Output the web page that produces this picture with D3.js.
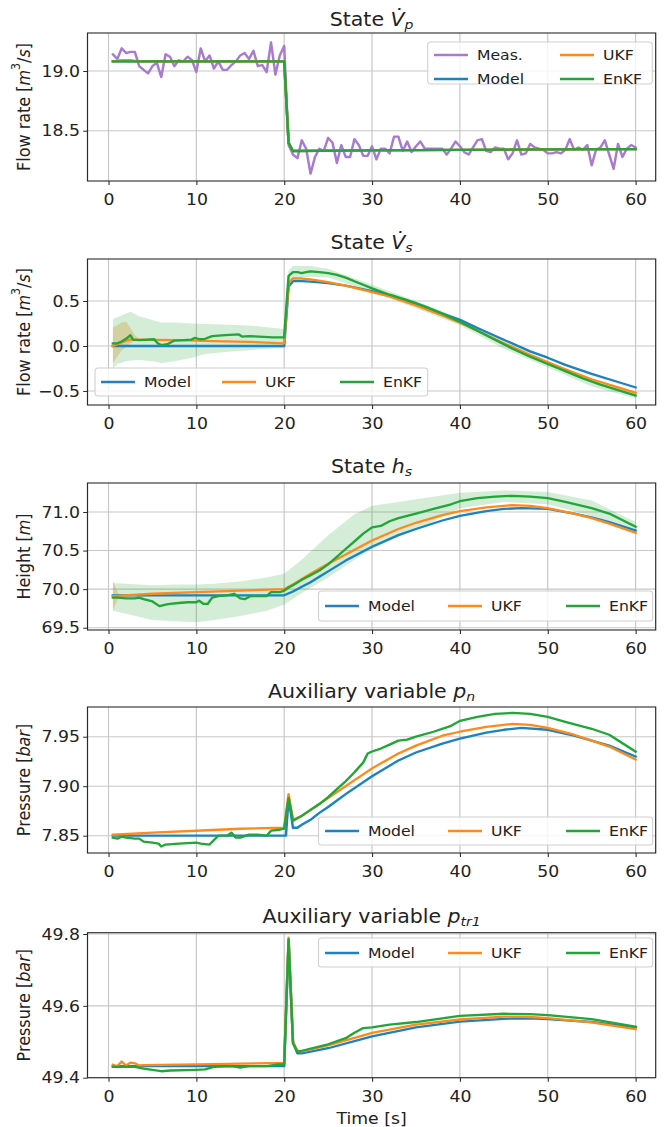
<!DOCTYPE html>
<html><head><meta charset="utf-8">
<script src="https://cdn.jsdelivr.net/npm/d3@7/dist/d3.min.js"></script>
<style>html,body{margin:0;padding:0;background:#fff;} svg{display:block;} text{font-family:"DejaVu Sans",sans-serif;fill:#222;}</style>
</head><body><svg id="c" width="672" height="1127"></svg>
<script>
// ---------------- DATA ----------------
const xTicks = [0,10,20,30,40,50,60];
const legendLabels4 = ["Meas.","Model","UKF","EnKF"];
const legendLabels3 = ["Model","UKF","EnKF"];

// Panel 1: State Vp
const measTime = [0.5,1,1.5,2,2.5,3,3.5,4,4.5,5,5.5,6,6.5,7,7.5,8,8.5,9,9.5,10,10.5,11,11.5,12,12.5,13,13.5,14,14.5,15,15.5,16,16.5,17,17.5,18,18.5,19,19.5,20,20.5,21,21.5,22,22.5,23,23.5,24,24.5,25,25.5,26,26.5,27,27.5,28,28.5,29,29.5,30,30.5,31,31.5,32,32.5,33,33.5,34,34.5,35,35.5,36,36.5,37,37.5,38,38.5,39,39.5,40,40.5,41,41.5,42,42.5,43,43.5,44,44.5,45,45.5,46,46.5,47,47.5,48,48.5,49,49.5,50,50.5,51,51.5,52,52.5,53,53.5,54,54.5,55,55.5,56,56.5,57,57.5,58,58.5,59,59.5,60];
const measVp = [19.14,19.10,19.19,19.15,19.16,19.16,19.04,19.01,18.98,19.04,19.07,18.95,19.14,19.12,19.04,19.09,19.08,19.12,19.09,18.99,19.19,19.08,19.13,19.02,19.08,19.01,19.01,19.05,19.08,19.13,19.15,19.10,19.17,19.04,19.05,18.99,19.24,18.97,19.13,19.21,
18.38,18.30,18.27,18.42,18.35,18.14,18.28,18.35,18.33,18.44,18.40,18.23,18.38,18.28,18.28,18.43,18.38,18.29,18.29,18.37,18.26,18.35,18.35,18.31,18.45,18.45,18.33,18.41,18.32,18.37,18.41,18.35,18.35,18.35,18.35,18.35,18.30,18.35,18.41,18.37,18.32,18.30,18.36,18.42,18.43,18.33,18.32,18.36,18.35,18.35,18.26,18.31,18.42,18.30,18.31,18.39,18.36,18.35,18.34,18.31,18.31,18.32,18.31,18.34,18.43,18.34,18.36,18.34,18.38,18.21,18.34,18.36,18.42,18.30,18.18,18.39,18.28,18.35,18.38,18.36];
const vpModelTime = [0.5,20,20.5,21,30,40,50,60];
const vpModel = [19.08,19.08,18.40,18.33,18.335,18.34,18.343,18.345];
const vpUKFTime = [0.5,1.5,2.5,3.5,20,20.5,21,30,40,50,60];
const vpUKF = [19.08,19.09,19.09,19.08,19.08,18.40,18.33,18.335,18.34,18.343,18.345];
const vpEnKFTime = [0.5,20,20.5,21,30,40,50,60];
const vpEnKF = [19.08,19.08,18.40,18.33,18.335,18.34,18.343,18.345];

// Panel 2: State Vs
const vsModelTime = [0.5,20,20.5,21,22,23,25,27,30,32,35,38,40,42,45,48,50,52,55,58,60];
const vsModel = [0,0,0.66,0.72,0.72,0.715,0.70,0.67,0.61,0.56,0.47,0.36,0.29,0.20,0.07,-0.06,-0.13,-0.21,-0.31,-0.40,-0.46];
const vsUKFTime = [0.5,1,2,2.5,3,5,8,12,16,20,20.5,21,22,23,25,27,30,32,35,38,40,42,45,48,50,52,55,58,60];
const vsUKF = [0.0,0.02,0.06,0.07,0.07,0.068,0.065,0.055,0.045,0.03,0.70,0.75,0.75,0.74,0.71,0.67,0.60,0.55,0.45,0.34,0.26,0.17,0.03,-0.10,-0.18,-0.26,-0.37,-0.46,-0.52];
const vsUKFBandTime = [0.5,1,1.5,2,2.5,3,3.5,4];
const vsUKFLo = [-0.19,-0.12,-0.05,-0.01,0.03,0.055,0.063,0.066];
const vsUKFHi = [0.21,0.23,0.26,0.27,0.20,0.12,0.08,0.07];
const vsEnKFTime = [0.5,1,1.5,2,2.5,2.8,3.5,5.2,5.6,6,6.7,7.5,8.6,9.4,9.8,10.4,11,11.8,13.3,14.8,15.2,16,17.1,18.7,20,20.5,21,21.5,22,22.5,23,24,25,26,27,28,29,30,32,34,36,38,40,42,44,46,48,50,52,54,56,58,60];
const vsEnKF = [0.03,0.03,0.05,0.08,0.12,0.07,0.065,0.075,0.03,0.01,0.02,0.06,0.065,0.07,0.09,0.075,0.08,0.11,0.12,0.13,0.105,0.11,0.105,0.095,0.095,0.78,0.82,0.82,0.81,0.82,0.83,0.82,0.81,0.79,0.76,0.72,0.68,0.64,0.57,0.51,0.44,0.36,0.27,0.17,0.07,-0.03,-0.12,-0.20,-0.28,-0.36,-0.43,-0.49,-0.55];
const vsEnKFBandTime = [0.5,1,2,2.5,3.5,5,6,7.5,9.5,11,14,17,20,20.5,21,23,25,30,35,40,45,50,55,60];
const vsEnKFHi = [0.30,0.32,0.36,0.38,0.33,0.29,0.26,0.26,0.25,0.245,0.235,0.22,0.19,0.84,0.89,0.89,0.86,0.68,0.50,0.31,0.07,-0.16,-0.38,-0.52];
const vsEnKFLo = [-0.25,-0.20,-0.17,-0.16,-0.155,-0.17,-0.19,-0.17,-0.13,-0.09,-0.06,-0.04,-0.02,0.70,0.75,0.77,0.76,0.60,0.42,0.23,-0.03,-0.24,-0.45,-0.58];

// Panel 3: State hs
const hsModelTime = [0.5,20,21,22,23,24,25,27,30,33,35,38,40,43,45,47,50,53,55,57,60];
const hsModel = [69.92,69.92,69.97,70.03,70.09,70.16,70.23,70.37,70.55,70.70,70.78,70.89,70.95,71.01,71.04,71.05,71.04,70.98,70.93,70.87,70.76];
const hsUKFTime = [0.5,5,10,15,20,21,23,25,27,30,33,35,38,40,43,45,46,48,50,53,55,57,60];
const hsUKF = [69.91,69.94,69.96,69.98,70.0,70.06,70.2,70.33,70.45,70.63,70.78,70.86,70.96,71.01,71.06,71.08,71.09,71.08,71.05,70.98,70.92,70.85,70.73];
const hsUKFBandTime = [0.5,0.8,1.1,1.5];
const hsUKFLo = [69.72,69.80,69.88,69.915];
const hsUKFHi = [70.11,70.03,69.95,69.92];
const hsEnKFTime = [0.5,1,2,3,3.5,4,5,5.8,6.5,7,8,9,10,10.3,10.8,11.3,11.8,12.5,13.5,14.3,15,15.5,16.2,17,18,18.5,19.5,20,20.5,21,22,23,24,25,26,27,28,29,30,31,32,33,35,37,39,40,42,44,46,48,50,52,55,57,60];
const hsEnKF = [69.89,69.89,69.88,69.88,69.89,69.87,69.84,69.78,69.80,69.81,69.82,69.83,69.83,69.85,69.81,69.81,69.89,69.91,69.92,69.94,69.88,69.87,69.91,69.91,69.91,69.96,69.96,69.98,70.02,70.05,70.12,70.18,70.24,70.32,70.42,70.52,70.62,70.72,70.80,70.82,70.88,70.92,70.98,71.04,71.10,71.14,71.18,71.20,71.21,71.20,71.18,71.13,71.05,70.98,70.81];
const hsEnKFBandTime = [0.5,2,5,8,10,12,15,18,20,22,25,28,30,33,36,40,45,50,55,60];
const hsEnKFHi = [70.08,70.07,70.05,70.06,70.06,70.07,70.10,70.15,70.20,70.38,70.70,70.97,71.08,71.13,71.18,71.25,71.28,71.26,71.15,70.87];
const hsEnKFLo = [69.72,69.68,69.60,69.58,69.57,69.60,69.65,69.72,69.80,69.95,70.15,70.38,70.52,70.68,70.82,71.05,71.13,71.10,70.95,70.74];

// Panel 4: pn
const pnModelTime = [0.5,20.2,20.5,21,21.5,22,23,24,25,27,30,33,35,38,40,43,45,47,50,53,55,57,60];
const pnModel = [7.850,7.850,7.888,7.858,7.858,7.861,7.866,7.873,7.879,7.892,7.910,7.926,7.934,7.943,7.948,7.954,7.957,7.959,7.957,7.951,7.946,7.941,7.930];
const pnUKFTime = [0.5,5,10,15,20,20.5,21,22,23,25,27,30,33,35,38,40,43,45,46,48,50,53,55,57,60];
const pnUKF = [7.851,7.853,7.855,7.857,7.858,7.892,7.866,7.870,7.876,7.888,7.900,7.918,7.933,7.941,7.951,7.955,7.960,7.962,7.963,7.962,7.959,7.952,7.946,7.940,7.927];
const pnEnKFTime = [0.5,1,1.5,2,3,3.5,4,5,5.7,6,6.5,8,10,10.5,11.5,12.5,13.5,14,14.5,15,16,17,18,18.5,19.5,20,20.5,21,22,23,24,25,26,27,28,29,29.5,30,31,32,33,34,35,37,39,40,42,44,46,48,50,52,55,57,60];
const pnEnKF = [7.848,7.847,7.849,7.848,7.847,7.847,7.844,7.843,7.842,7.839,7.841,7.842,7.843,7.842,7.841,7.850,7.850,7.853,7.848,7.848,7.851,7.851,7.850,7.855,7.856,7.857,7.888,7.865,7.870,7.876,7.882,7.889,7.897,7.905,7.914,7.924,7.933,7.935,7.938,7.942,7.946,7.947,7.950,7.955,7.961,7.966,7.970,7.973,7.974,7.973,7.970,7.965,7.958,7.952,7.935];

// Panel 5: ptr1
const ptModelTime = [0.5,20,20.5,21,21.5,22,25,30,35,40,45,48,50,55,60];
const ptModel = [49.432,49.432,49.78,49.50,49.468,49.468,49.482,49.515,49.540,49.556,49.564,49.565,49.563,49.555,49.540];
const ptUKFTime = [0.5,1,1.5,2,2.5,3,3.5,4,10,20,20.5,21,21.5,22,25,30,35,40,45,48,50,55,60];
const ptUKF = [49.436,49.432,49.445,49.434,49.442,49.440,49.434,49.435,49.437,49.441,49.79,49.50,49.475,49.473,49.490,49.525,49.548,49.562,49.570,49.569,49.566,49.554,49.535];
const ptEnKFTime = [0.5,3,4,5,6,7,10,11,12,14,15,16,18,19,20,20.5,21,21.5,22,25,27,28,29,30,32,35,40,45,48,50,55,60];
const ptEnKF = [49.430,49.430,49.425,49.422,49.418,49.420,49.422,49.423,49.430,49.432,49.428,49.432,49.432,49.436,49.438,49.785,49.495,49.472,49.475,49.493,49.510,49.525,49.538,49.540,49.548,49.555,49.572,49.578,49.577,49.574,49.563,49.542];

// ---------------- STYLE / LAYOUT ----------------
const SX = 1.08;
const COL = {meas:"#a87bd0", model:"#1b83c0", ukf:"#ff8a1c", enkf:"#21a637"};
const AXL = 87.5, AXR = 655.7;
const xDomain = [-2.39, 62.29];
const LEG_LINE = 34, LEG_TXT = 43, LEG_FONT = 14.5;
const zip = (t, v) => t.map((d,i) => ({t:d, v:v[i]}));
const zipB = (t, lo, hi) => t.map((d,i) => ({t:d, lo:lo[i], hi:hi[i]}));

const flowLabel = [{s:"Flow rate ["},{s:"m",it:1},{s:"3",sup:1},{s:"/"},{s:"s",it:1},{s:"]"}];
const panels = [
 {top:33,bottom:181,yDomain:[18.079,19.318],yTicks:[18.5,19.0],fmt:d3.format(".1f"),titleY:19,
  title:[{s:"State "},{s:"V\u0307",it:1},{s:"p",it:1,sub:1}], ylabel:flowLabel,
  bands:[],
  lines:[{d:zip(measTime,measVp),c:COL.meas},{d:zip(vpModelTime,vpModel),c:COL.model},{d:zip(vpUKFTime,vpUKF),c:COL.ukf},{d:zip(vpEnKFTime,vpEnKF),c:COL.enkf}],
  legend:{box:[427.7,652.3,42,84],labels:legendLabels4,colors:[COL.meas,COL.model,COL.ukf,COL.enkf],
    pos:[[434,55],[434,79],[560,55],[560,79]]}},
 {top:259,bottom:405,yDomain:[-0.656,0.967],yTicks:[-0.5,0,0.5],fmt:d=>d3.format(".1f")(d).replace("-","\u2212"),titleY:242,
  title:[{s:"State "},{s:"V\u0307",it:1},{s:"s",it:1,sub:1}], ylabel:flowLabel,
  bands:[{d:zipB(vsUKFBandTime,vsUKFLo,vsUKFHi),c:COL.ukf,o:0.3},{d:zipB(vsEnKFBandTime,vsEnKFLo,vsEnKFHi),c:COL.enkf,o:0.2}],
  lines:[{d:zip(vsModelTime,vsModel),c:COL.model},{d:zip(vsUKFTime,vsUKF),c:COL.ukf},{d:zip(vsEnKFTime,vsEnKF),c:COL.enkf}],
  legend:{box:[95,427.7,368,396],labels:legendLabels3,colors:[COL.model,COL.ukf,COL.enkf],
    pos:[[101,382],[222,382],[340,382]]}},
 {top:483,bottom:630,yDomain:[69.47,71.376],yTicks:[69.5,70.0,70.5,71.0],fmt:d3.format(".1f"),titleY:466,
  title:[{s:"State "},{s:"h",it:1},{s:"s",it:1,sub:1}], ylabel:[{s:"Height ["},{s:"m",it:1},{s:"]"}],
  bands:[{d:zipB(hsUKFBandTime,hsUKFLo,hsUKFHi),c:COL.ukf,o:0.3},{d:zipB(hsEnKFBandTime,hsEnKFLo,hsEnKFHi),c:COL.enkf,o:0.2}],
  lines:[{d:zip(hsModelTime,hsModel),c:COL.model},{d:zip(hsUKFTime,hsUKF),c:COL.ukf},{d:zip(hsEnKFTime,hsEnKF),c:COL.enkf}],
  legend:{box:[318.5,652.7,591,621],labels:legendLabels3,colors:[COL.model,COL.ukf,COL.enkf],
    pos:[[325,606],[448,606],[566,606]]}},
 {top:707,bottom:853,yDomain:[7.8325,7.980],yTicks:[7.85,7.90,7.95],fmt:d3.format(".2f"),titleY:691,
  title:[{s:"Auxiliary variable "},{s:"p",it:1},{s:"n",it:1,sub:1}], ylabel:[{s:"Pressure ["},{s:"bar",it:1},{s:"]"}],
  bands:[],
  lines:[{d:zip(pnModelTime,pnModel),c:COL.model},{d:zip(pnUKFTime,pnUKF),c:COL.ukf},{d:zip(pnEnKFTime,pnEnKF),c:COL.enkf}],
  legend:{box:[318.5,652.7,817,845],labels:legendLabels3,colors:[COL.model,COL.ukf,COL.enkf],
    pos:[[325,831],[448,831],[566,831]]}},
 {top:932.7,bottom:1077.7,yDomain:[49.4,49.8036],yTicks:[49.4,49.6,49.8],fmt:d3.format(".1f"),titleY:916,
  title:[{s:"Auxiliary variable "},{s:"p",it:1},{s:"tr1",it:1,sub:1}], ylabel:[{s:"Pressure ["},{s:"bar",it:1},{s:"]"}],
  bands:[],
  lines:[{d:zip(ptModelTime,ptModel),c:COL.model},{d:zip(ptUKFTime,ptUKF),c:COL.ukf},{d:zip(ptEnKFTime,ptEnKF),c:COL.enkf}],
  legend:{box:[318.5,652.7,938,967],labels:legendLabels3,colors:[COL.model,COL.ukf,COL.enkf],
    pos:[[325,953],[448,953],[566,953]]}}
];

// ---------------- DRAW ----------------
const svg = d3.select("#c");
svg.append("rect").attr("width",672).attr("height",1127).attr("fill","#fff");
const root = svg.append("g").attr("transform",`scale(${SX},1)`);
const defs = svg.append("defs");

function richText(sel, parts, subSize){
  let shift = 0;
  parts.forEach(p => {
    const t = sel.append("tspan").text(p.s);
    if (p.it) t.attr("font-style","italic");
    if (p.sub){ t.attr("font-size",subSize).attr("dy",5 - shift); shift = 5; }
    else if (p.sup){ t.attr("font-size",subSize).attr("dy",-7 - shift); shift = -7; }
    else if (shift !== 0){ t.attr("dy",-shift); shift = 0; }
  });
}

panels.forEach((p, i) => {
  const g = root.append("g");
  const x = d3.scaleLinear().domain(xDomain).range([AXL/SX, AXR/SX]);
  const y = d3.scaleLinear().domain(p.yDomain).range([p.bottom, p.top]);
  const x0 = AXL/SX, x1 = AXR/SX;
  const cid = "clip"+i;
  defs.append("clipPath").attr("id",cid).append("rect")
    .attr("x",x0*SX).attr("y",p.top).attr("width",(x1-x0)*SX).attr("height",p.bottom-p.top);

  // grid
  g.append("g").selectAll("line").data(xTicks).join("line")
    .attr("x1",d=>x(d)).attr("x2",d=>x(d)).attr("y1",p.top).attr("y2",p.bottom)
    .attr("stroke","#c8c8c8").attr("stroke-width",1.1);
  g.append("g").selectAll("line").data(p.yTicks).join("line")
    .attr("x1",x0).attr("x2",x1).attr("y1",d=>y(d)).attr("y2",d=>y(d))
    .attr("stroke","#c8c8c8").attr("stroke-width",1.1);

  const plot = svg.append("g").attr("clip-path",`url(#${cid})`).append("g").attr("transform",`scale(${SX},1)`);
  const area = d3.area().x(d=>x(d.t)).y0(d=>y(d.lo)).y1(d=>y(d.hi));
  p.bands.forEach(b => plot.append("path").attr("d",area(b.d)).attr("fill",b.c).attr("fill-opacity",b.o).attr("stroke","none"));
  const line = d3.line().x(d=>x(d.t)).y(d=>y(d.v));
  p.lines.forEach(l => plot.append("path").attr("d",line(l.d)).attr("fill","none")
    .attr("stroke",l.c).attr("stroke-width",2.3).attr("stroke-linejoin","round").attr("stroke-linecap","square"));

  // spines
  const top = root.append("g");
  top.append("rect").attr("x",x0).attr("y",p.top).attr("width",x1-x0).attr("height",p.bottom-p.top)
    .attr("fill","none").attr("stroke","#2a2a2a").attr("stroke-width",1.1);

  // axes
  const xa = top.append("g").attr("transform",`translate(0,${p.bottom})`)
    .call(d3.axisBottom(x).tickValues(xTicks).tickSize(4).tickFormat(d3.format("d")));
  xa.select(".domain").remove();
  xa.selectAll("line").attr("stroke","#2a2a2a");
  xa.selectAll("text").attr("y",19).attr("dy",null).attr("dominant-baseline","central")
    .attr("font-size",16).attr("fill","#222").attr("font-family","DejaVu Sans");
  const ya = top.append("g").attr("transform",`translate(${x0},0)`)
    .call(d3.axisLeft(y).tickValues(p.yTicks).tickSize(4).tickPadding(3).tickFormat(p.fmt));
  ya.select(".domain").remove();
  ya.selectAll("line").attr("stroke","#2a2a2a");
  ya.selectAll("text").attr("dy",null).attr("dominant-baseline","central")
    .attr("font-size",16).attr("fill","#222").attr("font-family","DejaVu Sans");

  // title
  const tt = top.append("text").attr("x",(x0+x1)/2).attr("y",p.titleY)
    .attr("text-anchor","middle").attr("dominant-baseline","central").attr("font-size",19);
  richText(tt, p.title, 13);

  // ylabel
  const yl = top.append("text").attr("transform",`translate(${23.6/SX},${(p.top+p.bottom)/2}) rotate(-90)`)
    .attr("text-anchor","middle").attr("dominant-baseline","central").attr("font-size",16);
  richText(yl, p.ylabel, 11);

  // legend
  const L = p.legend;
  const lg = top.append("g");
  lg.append("rect").attr("x",L.box[0]/SX).attr("y",L.box[2]).attr("width",(L.box[1]-L.box[0])/SX).attr("height",L.box[3]-L.box[2])
    .attr("rx",3).attr("fill","#fff").attr("fill-opacity",0.8).attr("stroke","#d0d0d0").attr("stroke-width",1);
  L.labels.forEach((lab, k) => {
    const [px, py] = L.pos[k];
    lg.append("line").attr("x1",px/SX).attr("x2",(px+LEG_LINE)/SX).attr("y1",py).attr("y2",py)
      .attr("stroke",L.colors[k]).attr("stroke-width",2.3);
    lg.append("text").attr("x",(px+LEG_TXT)/SX).attr("y",py).attr("dominant-baseline","central")
      .attr("font-size",LEG_FONT).text(lab);
  });
});

// x label
root.append("text").attr("x",(AXL+AXR)/2/SX).attr("y",1119).attr("text-anchor","middle")
  .attr("dominant-baseline","central").attr("font-size",16).text("Time [s]");
</script></body></html>
